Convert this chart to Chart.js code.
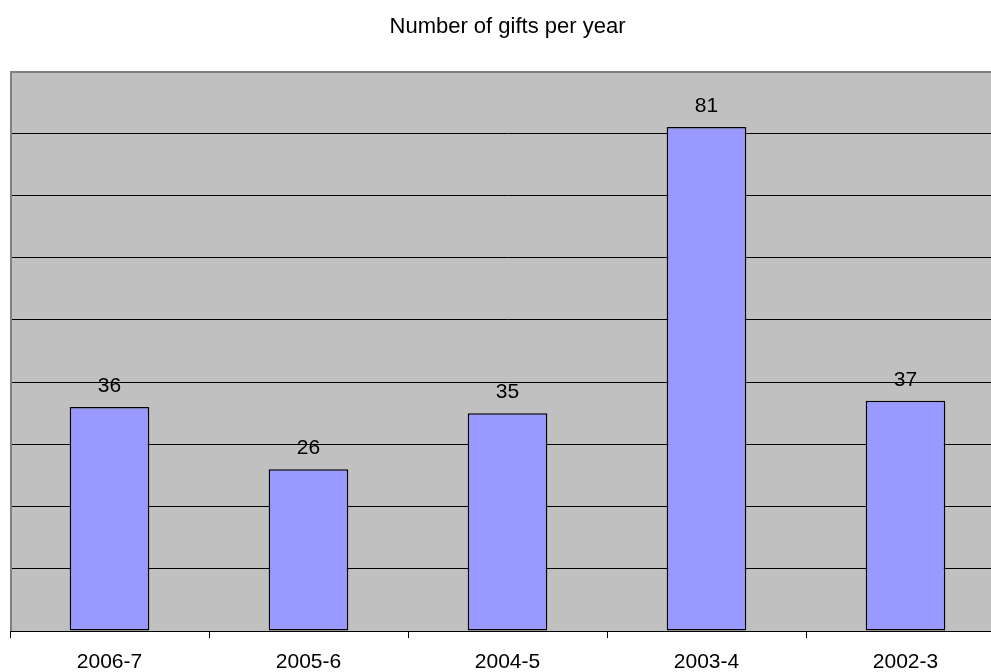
<!DOCTYPE html>
<html>
<head>
<meta charset="utf-8">
<title>Number of gifts per year</title>
<script src="https://cdn.jsdelivr.net/npm/chart.js@4"></script>
<style>
  html, body { margin: 0; padding: 0; background: #fff; overflow: hidden; }
  #wrap { width: 1015px; height: 672px; }
</style>
</head>
<body>
<div id="wrap"><canvas id="gifts" width="1015" height="672"></canvas></div>
<script>
// data
const years = ["2006-7", "2005-6", "2004-5", "2003-4", "2002-3"];
const gifts = [36, 26, 35, 81, 37];
const yMax = 90;
const yStep = 10;

Chart.defaults.font.family = "'Liberation Sans', Arial, sans-serif";
Chart.defaults.color = "#000";

// grey plot area + top/left frame
const plotBg = {
  id: "plotBg",
  beforeDraw(chart) {
    const { ctx, chartArea: a } = chart;
    ctx.save();
    ctx.fillStyle = "#c0c0c0";
    ctx.fillRect(a.left, a.top, a.right - a.left, a.bottom - a.top);
    ctx.restore();
  },
  afterDraw(chart) {
    const { ctx, chartArea: a } = chart;
    ctx.save();
    ctx.strokeStyle = "#808080";
    ctx.lineWidth = 2;
    ctx.beginPath();
    ctx.moveTo(a.left + 1, a.bottom);
    ctx.lineTo(a.left + 1, a.top + 1);
    ctx.lineTo(a.right, a.top + 1);
    ctx.stroke();
    ctx.restore();
  },
};

// value above each bar
const valueLabels = {
  id: "valueLabels",
  afterDatasetsDraw(chart) {
    const { ctx } = chart;
    const meta = chart.getDatasetMeta(0);
    ctx.save();
    ctx.font = "21px 'Liberation Sans', Arial, sans-serif";
    ctx.fillStyle = "#000";
    ctx.textAlign = "center";
    ctx.textBaseline = "alphabetic";
    meta.data.forEach((bar, i) => {
      ctx.fillText(String(gifts[i]), bar.x, bar.y - 15);
    });
    ctx.restore();
  },
};

new Chart(document.getElementById("gifts"), {
  type: "bar",
  data: {
    labels: years,
    datasets: [
      {
        data: gifts,
        backgroundColor: "#9999ff",
        borderColor: "#000",
        borderWidth: 1.5,
        borderSkipped: false,
        categoryPercentage: 1,
        barPercentage: 0.4,
      },
    ],
  },
  options: {
    responsive: false,
    animation: false,
    layout: { padding: { left: 10, right: 10, top: 0, bottom: -15 } },
    plugins: {
      legend: { display: false },
      tooltip: { enabled: false },
      title: {
        display: true,
        text: "Number of gifts per year",
        color: "#000",
        font: { size: 22, weight: "normal" },
        padding: { top: 14, bottom: 30.6 },
      },
    },
    scales: {
      x: {
        grid: {
          offset: true,
          drawOnChartArea: false,
          drawTicks: true,
          tickLength: 7,
          color: "#000",
        },
        border: { color: "#000", width: 1 },
        ticks: {
          color: "#000",
          padding: 14,
          font: { size: 21, lineHeight: 1 },
        },
      },
      y: {
        min: 0,
        max: yMax,
        ticks: { stepSize: yStep, display: false },
        grid: {
          drawTicks: false,
          color: (c) => (c.tick && c.tick.value === yMax ? "transparent" : "#000"),
        },
        border: { display: false },
      },
    },
  },
  plugins: [plotBg, valueLabels],
});
</script>
</body>
</html>
